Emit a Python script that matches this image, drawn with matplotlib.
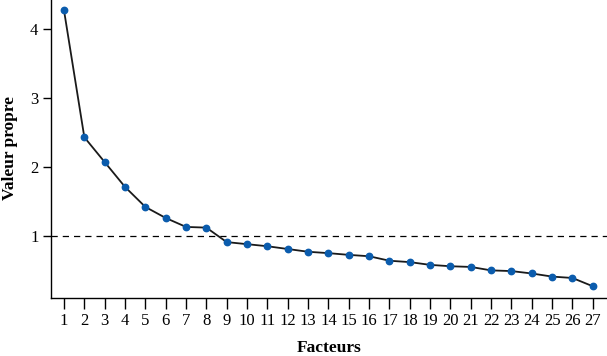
import matplotlib
matplotlib.use("Agg")
import matplotlib.pyplot as plt

# eigenvalues
facteurs = list(range(1, 28))
valeurs_propres = [4.27, 2.43, 2.07, 1.71, 1.42, 1.26, 1.13, 1.12, 0.91, 0.88,
                   0.85, 0.81, 0.77, 0.75, 0.725, 0.705, 0.64, 0.62, 0.58, 0.56,
                   0.55, 0.50, 0.49, 0.455, 0.41, 0.39, 0.27]
y_ticks = [1, 2, 3, 4]
seuil = 1

plt.rcParams['font.family'] = ['Liberation Serif', 'DejaVu Serif']

fig = plt.figure(figsize=(6.07, 3.56), dpi=100)
ax = fig.add_axes([0.084, 0.163, 0.916, 0.837])

# Kaiser criterion line
ax.axhline(seuil, color='black', linestyle=(0, (5, 4)), linewidth=0.9)

# scree line with points
ax.plot(facteurs, valeurs_propres, color='#1a1a1a', linewidth=1.3,
        marker='o', markersize=4.6, markerfacecolor='#0b5cad',
        markeredgecolor='#0b5cad', zorder=3)

ax.set_xlim(0.36, 27.7)
ax.set_ylim(0.1, 4.42)
ax.set_xticks(facteurs)
ax.set_yticks(y_ticks)

for side in ['top', 'right']:
    ax.spines[side].set_visible(False)
ax.spines['left'].set_linewidth(1.0)
ax.spines['bottom'].set_linewidth(1.0)

ax.tick_params(axis='x', direction='out', length=8, width=1.0, labelsize=12, pad=3)
ax.tick_params(axis='y', direction='out', length=6, width=1.0, labelsize=12, pad=3)

ax.set_xlabel('Facteurs', fontsize=12.5, fontweight='bold', va='center')
ax.set_ylabel('Valeur propre', fontsize=12.5, fontweight='bold', va='center')
ax.xaxis.set_label_coords(0.5, -0.168)
ax.yaxis.set_label_coords(-0.074, 0.503)

fig.savefig('out.png', dpi=100)
